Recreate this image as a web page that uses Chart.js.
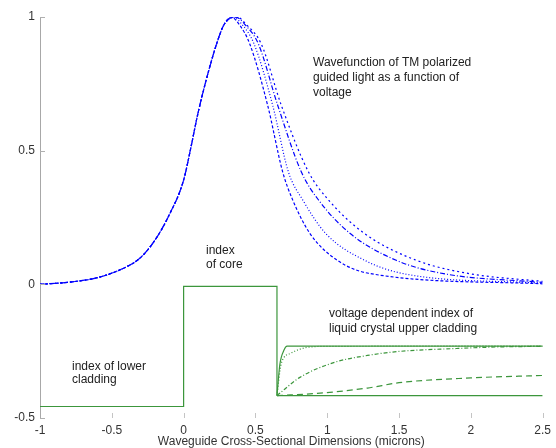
<!DOCTYPE html>
<html>
<head>
<meta charset="utf-8">
<script src="https://cdn.jsdelivr.net/npm/chart.js@4"></script>
<style>
html, body { margin: 0; padding: 0; background: #fff; }
canvas { display: block; }
</style>
</head>
<body>
<canvas id="canvas" width="556" height="448"></canvas>
<script>
// wavefunction: rising side, the four curves nearly overlap here
var riseX = [-1, -0.8, -0.6, -0.4, -0.3, -0.2, -0.1, 0, 0.05, 0.1, 0.16, 0.23, 0.28];
var riseY = [0, 0.008, 0.025, 0.065, 0.1, 0.165, 0.26, 0.39, 0.51, 0.64, 0.77, 0.9, 0.97];
// falling side, one x list per voltage
var fallY  = [1, 0.97, 0.9, 0.67, 0.42, 0.315, 0.19, 0.09, 0.04];
var fallX1 = [0.33, 0.39, 0.46, 0.585, 0.69, 0.76, 0.88, 1.07, 1.30];
var fallX2 = [0.34, 0.41, 0.49, 0.62, 0.73, 0.83, 0.99, 1.26, 1.53];
var fallX3 = [0.36, 0.43, 0.52, 0.655, 0.82, 0.94, 1.16, 1.48, 1.81];
var fallX4 = [0.37, 0.44, 0.54, 0.68, 0.87, 1.01, 1.26, 1.62, 1.99];
var tailY  = [0.002, 0.004, 0.007, 0.011]; // value at x = 2.5

// refractive index profile
var coreX = [-1, 0, 0, 0.65, 0.65];
var coreY = [-0.457, -0.457, -0.008, -0.008, -0.416];
var cladX1 = [0.65, 0.67, 0.70, 0.72, 2.5];
var cladY1 = [-0.416, -0.30, -0.245, -0.231, -0.231];
var cladX2 = [0.65, 0.68, 0.745, 0.86, 1.0, 2.5];
var cladY2 = [-0.416, -0.296, -0.258, -0.236, -0.232, -0.231];
var cladX3 = [0.65, 0.81, 1.05, 1.28, 1.5, 1.9, 2.2, 2.5];
var cladY3 = [-0.416, -0.348, -0.292, -0.266, -0.251, -0.240, -0.234, -0.232];
var cladX4 = [0.65, 0.93, 1.28, 1.5, 2.0, 2.5];
var cladY4 = [-0.416, -0.408, -0.388, -0.368, -0.350, -0.341];
var cladX5 = [0.65, 2.5];
var cladY5 = [-0.416, -0.416];

var BLUE = '#0000ff';
var GREEN = 'rgb(60,150,60)';
var FONT = '"Liberation Sans", Arial, sans-serif';

function pts(xs, ys) {
    return xs.map(function (x, i) { return {x: x, y: ys[i]}; });
}

function wave(fallX, k, dash) {
    var data = pts(riseX.concat(fallX), riseY.concat(fallY));
    data.push({x: 2.5, y: tailY[k]});
    return {data: data, borderColor: BLUE, borderWidth: 1.2, borderDash: dash,
        pointRadius: 0, cubicInterpolationMode: 'monotone', fill: false};
}

function index(xs, ys, dash, smooth) {
    return {data: pts(xs, ys), borderColor: GREEN, borderWidth: 1.2, borderDash: dash,
        pointRadius: 0, cubicInterpolationMode: smooth ? 'monotone' : 'default', tension: 0, fill: false};
}

var notes = [
    {x: 313, y: 63, lines: ['Wavefunction of TM polarized', 'guided light as a function of', 'voltage'], lh: 15},
    {x: 206, y: 251, lines: ['index', 'of core'], lh: 14},
    {x: 329, y: 314, lines: ['voltage dependent index of', 'liquid crystal upper cladding'], lh: 15},
    {x: 72, y: 367, lines: ['index of lower', 'cladding'], lh: 13}
];

var decor = {
    id: 'decor',
    afterDraw: function (chart) {
        var ctx = chart.ctx, xs = chart.scales.x, ys = chart.scales.y;
        ctx.save();
        ctx.lineWidth = 1;
        ctx.strokeStyle = '#c4c4c4';
        xs.ticks.forEach(function (t) {
            var px = Math.round(xs.getPixelForValue(t.value)) + 0.5;
            if (t.value === -1) return;
            ctx.beginPath();
            ctx.moveTo(px, ys.bottom);
            ctx.lineTo(px, ys.bottom - 5);
            ctx.stroke();
        });
        ctx.strokeStyle = '#b0b0b0';
        ys.ticks.forEach(function (t) {
            var py = Math.round(ys.getPixelForValue(t.value)) + 0.5;
            ctx.beginPath();
            ctx.moveTo(xs.left, py);
            ctx.lineTo(xs.left + 5, py);
            ctx.stroke();
        });
        ctx.fillStyle = '#222';
        ctx.font = '12px ' + FONT;
        ctx.textBaseline = 'middle';
        ctx.textAlign = 'left';
        notes.forEach(function (n) {
            n.lines.forEach(function (s, i) {
                ctx.fillText(s, n.x, n.y + i * n.lh);
            });
        });
        ctx.restore();
    }
};

function plain(v) { return String(Math.round(v * 10) / 10); }

window.onload = function () {
    var ctx = document.getElementById('canvas').getContext('2d');
    new Chart(ctx, {
        type: 'line',
        data: {
            datasets: [
                wave(fallX1, 0, [3, 2]),
                wave(fallX2, 1, [1, 2]),
                wave(fallX3, 2, [5, 2, 1, 2]),
                wave(fallX4, 3, [2, 3]),
                index(coreX, coreY, [], false),
                index(cladX1, cladY1, [], true),
                index(cladX2, cladY2, [1, 2], true),
                index(cladX3, cladY3, [4, 2, 1, 2], true),
                index(cladX4, cladY4, [6, 4], true),
                index(cladX5, cladY5, [], false)
            ]
        },
        options: {
            responsive: false,
            animation: false,
            devicePixelRatio: 1,
            layout: {padding: {top: 17, right: 8, left: 0, bottom: 0}},
            plugins: {legend: {display: false}, tooltip: {enabled: false}},
            scales: {
                x: {
                    type: 'linear', min: -1, max: 2.5,
                    ticks: {stepSize: 0.5, color: '#333', padding: 5, font: {family: FONT, size: 12}, callback: plain},
                    grid: {display: false, drawTicks: false},
                    border: {display: false},
                    title: {display: true, text: 'Waveguide Cross-Sectional Dimensions (microns)',
                        color: '#333', padding: {top: 0, bottom: -1}, font: {family: FONT, size: 12}},
                    afterFit: function (s) { s.height = 30; }
                },
                y: {
                    type: 'linear', min: -0.5, max: 1,
                    ticks: {stepSize: 0.5, color: '#333', padding: 5, font: {family: FONT, size: 12}, callback: plain},
                    grid: {display: false, drawTicks: false},
                    border: {display: true, color: '#a8a8a8', width: 1},
                    afterFit: function (s) { s.width = 40; }
                }
            }
        },
        plugins: [decor]
    });
};
</script>
</body>
</html>
